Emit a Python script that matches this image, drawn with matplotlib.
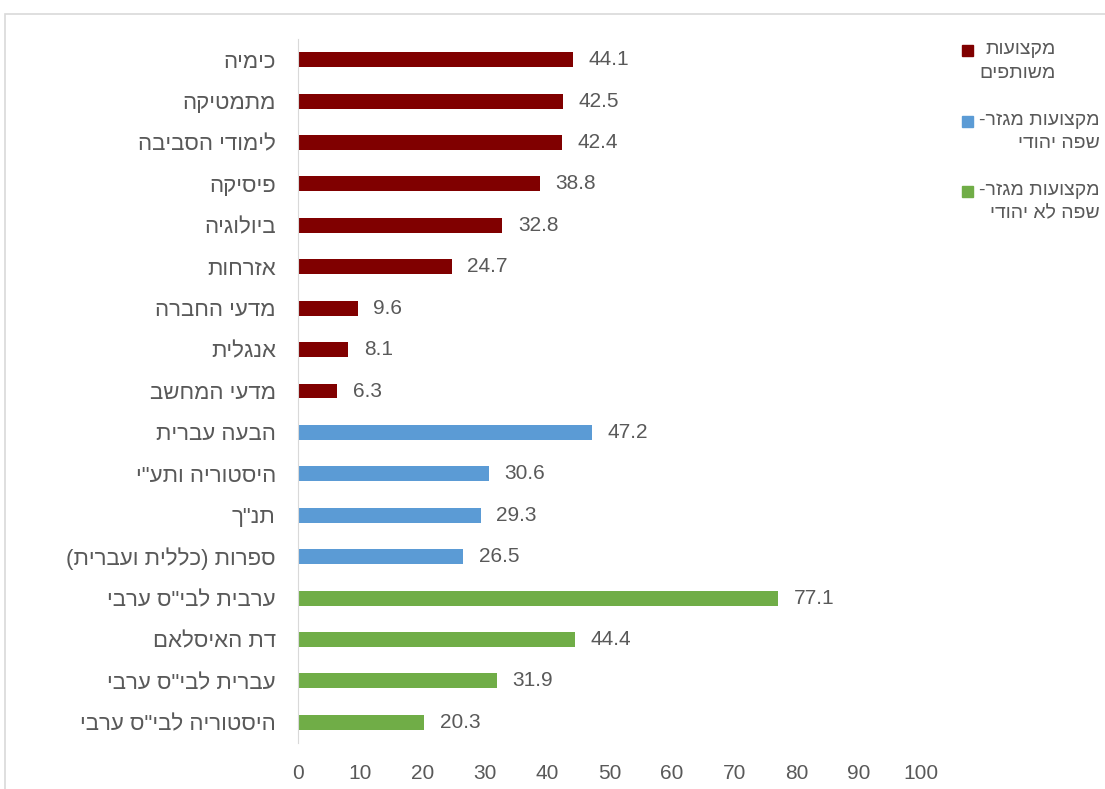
import matplotlib.pyplot as plt
from matplotlib.patches import Rectangle

# data (logical Hebrew order, top to bottom)
subjects = ['כימיה', 'מתמטיקה', 'לימודי הסביבה', 'פיסיקה', 'ביולוגיה', 'אזרחות',
            'מדעי החברה', 'אנגלית', 'מדעי המחשב',
            'הבעה עברית', 'היסטוריה ותע"י', 'תנ"ך', 'ספרות (כללית ועברית)',
            'ערבית לבי"ס ערבי', 'דת האיסלאם', 'עברית לבי"ס ערבי', 'היסטוריה לבי"ס ערבי']
values = [44.1, 42.5, 42.4, 38.8, 32.8, 24.7, 9.6, 8.1, 6.3,
          47.2, 30.6, 29.3, 26.5,
          77.1, 44.4, 31.9, 20.3]
groups = [0] * 9 + [1] * 4 + [2] * 4
group_names = ['מקצועות\nמשותפים', 'מקצועות מגזר-\nשפה יהודי', 'מקצועות מגזר-\nשפה לא יהודי']
colors = ['#800000', '#5B9BD5', '#70AD47']
xticks = [0, 10, 20, 30, 40, 50, 60, 70, 80, 90, 100]


def rtl(s):
    # matplotlib has no bidi: reverse each line and mirror brackets
    swap = {'(': ')', ')': '('}
    return '\n'.join(''.join(swap.get(c, c) for c in line[::-1]) for line in s.split('\n'))


plt.rcParams['font.family'] = ['Liberation Sans', 'DejaVu Sans']
txt = '#595959'

fig = plt.figure(figsize=(11.05, 7.89), dpi=100)
fig.patches.append(Rectangle((5 / 1105, -0.1), 1.2, 1.1 - 14 / 789, transform=fig.transFigure,
                             fill=False, edgecolor='#D9D9D9', linewidth=1.2))
ax = fig.add_axes([298 / 1105, 1 - 743 / 789, 623 / 1105, 704 / 789])

ypos = list(range(len(values)))
ax.barh(ypos, values, height=0.36, color=[colors[g] for g in groups])
for y, v in zip(ypos, values):
    ax.text(v + 2.5, y, f'{v:.1f}', va='center', ha='left', fontsize=15, color=txt)

ax.set_ylim(len(values) - 0.5, -0.5)
ax.set_xlim(0, 100)
ax.set_yticks(ypos)
ax.set_yticklabels([rtl(s) for s in subjects], fontsize=16, color=txt)
ax.set_xticks(xticks)
ax.set_xticklabels([str(t) for t in xticks], fontsize=15, color=txt)
ax.tick_params(axis='both', length=0)
ax.tick_params(axis='y', pad=16)
ax.tick_params(axis='x', pad=15)
for s in ['top', 'right', 'bottom']:
    ax.spines[s].set_visible(False)
ax.spines['left'].set_color('#D9D9D9')

# legend on the right
leg_y = [50, 121, 191]
for i, name in enumerate(group_names):
    y = leg_y[i]
    fig.patches.append(Rectangle((962 / 1105, 1 - (y + 6) / 789), 11 / 1105, 11 / 789,
                                 transform=fig.transFigure, color=colors[i]))
    fig.text(979 / 1105, 1 - (y - 9) / 789, rtl(name), ha='left', va='top',
             multialignment='right', fontsize=14, color=txt, linespacing=1.5)

fig.savefig('out.png')
